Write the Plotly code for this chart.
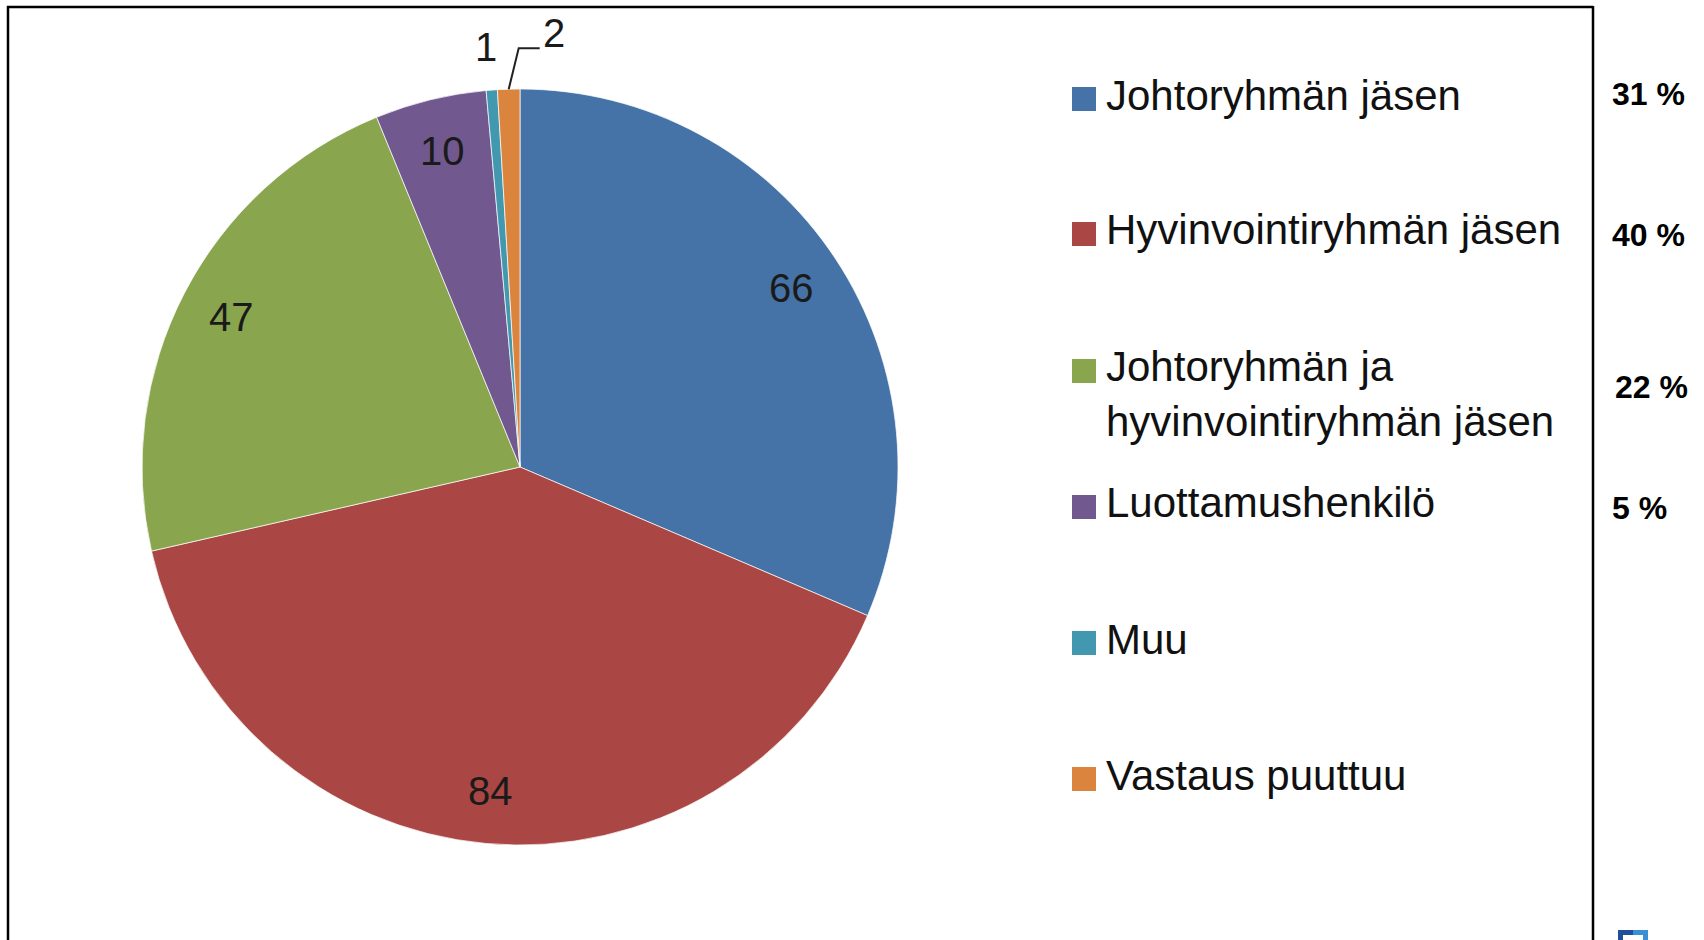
import math
import plotly.graph_objects as go

# ---- data ----
categories = [
    "Johtoryhmän jäsen",
    "Hyvinvointiryhmän jäsen",
    "Johtoryhmän ja<br>hyvinvointiryhmän jäsen",
    "Luottamushenkilö",
    "Muu",
    "Vastaus puuttuu",
]
values = [66, 84, 47, 10, 1, 2]
colors = ["#4572A7", "#AA4643", "#89A54E", "#71588F", "#4198AF", "#DB843D"]
show_percent = [True, True, True, True, False, False]

# ---- layout constants (pixels) ----
W, H = 1704, 940
CX, CY, R = 520, 467, 378
FONT = "Liberation Sans, Arial, sans-serif"


def px(x):
    return x / W


def py(y):
    return 1 - y / H


fig = go.Figure()
fig.add_trace(go.Pie(
    labels=categories,
    values=values,
    marker=dict(colors=colors, line=dict(color="rgba(255,255,255,0.7)", width=1)),
    sort=False,
    direction="clockwise",
    rotation=0,
    textinfo="none",
    hoverinfo="label+value+percent",
    showlegend=False,
    domain=dict(x=[px(CX - R), px(CX + R)], y=[py(CY + R), py(CY - R)]),
))

annotations = []
shapes = []

# value labels computed from slice angles
total = sum(values)
cum = 0
for i, v in enumerate(values):
    a0 = cum / total * 360
    cum += v
    a1 = cum / total * 360
    mid = math.radians((a0 + a1) / 2)
    if i < 4:
        r = 0.86 * R
        x = CX + r * math.sin(mid)
        y = CY - r * math.cos(mid)
        annotations.append(dict(x=px(x), y=py(y), xref="paper", yref="paper",
                                text=str(v), showarrow=False,
                                font=dict(family=FONT, size=40, color="#1a1a1a"),
                                xanchor="center", yanchor="middle"))
    elif i == 4:
        r = 1.115 * R
        x = CX + r * math.sin(mid)
        y = CY - r * math.cos(mid)
        annotations.append(dict(x=px(x - 3), y=py(y), xref="paper", yref="paper",
                                text=str(v), showarrow=False,
                                font=dict(family=FONT, size=40, color="#1a1a1a"),
                                xanchor="center", yanchor="middle"))
    else:
        x0 = CX + R * math.sin(mid)
        y0 = CY - R * math.cos(mid)
        xb, yb = x0 + 10, y0 - 41
        xe = xb + 21
        shapes.append(dict(type="path", xref="paper", yref="paper",
                           path=f"M {px(x0)},{py(y0)} L {px(xb)},{py(yb)} L {px(xe)},{py(yb)}",
                           line=dict(color="#222222", width=2)))
        annotations.append(dict(x=px(xe + 1), y=py(yb - 15), xref="paper", yref="paper",
                                text=str(v), showarrow=False,
                                font=dict(family=FONT, size=40, color="#1a1a1a"),
                                xanchor="left", yanchor="middle"))

# legend drawn manually to match spacing
legend_y = [99, 234, 371, 507, 643, 779]
for i, (lab, c) in enumerate(zip(categories, colors)):
    yc = legend_y[i]
    shapes.append(dict(type="rect", xref="paper", yref="paper",
                       x0=px(1072), x1=px(1096), y0=py(yc + 12), y1=py(yc - 12),
                       fillcolor=c, line=dict(width=0)))
    nlines = lab.count("<br>") + 1
    ty = yc - 4 + (nlines - 1) * 27
    annotations.append(dict(x=px(1104), y=py(ty), xref="paper", yref="paper",
                            text=lab, showarrow=False, align="left",
                            font=dict(family=FONT, size=42, color="#111111"),
                            xanchor="left", yanchor="middle"))

# percentages column
pct_y = [94, 235, 387, 508]
pct_x = [1610, 1610, 1613, 1610]
k = 0
for i, v in enumerate(values):
    if show_percent[i]:
        annotations.append(dict(x=px(pct_x[k]), y=py(pct_y[k]), xref="paper", yref="paper",
                                text=f"<b>{round(v / total * 100)} %</b>", showarrow=False,
                                font=dict(family=FONT, size=32, color="#000000"),
                                xanchor="left", yanchor="middle"))
        k += 1

# frame border
for (x0, y0, x1, y1) in [(8, 6, 8, 940), (7, 7, 1593, 7), (1593, 6, 1593, 940)]:
    shapes.append(dict(type="line", xref="paper", yref="paper",
                       x0=px(x0), y0=py(y0), x1=px(x1), y1=py(y1),
                       line=dict(color="#000000", width=2.5)))

# partial logo at bottom right
shapes.append(dict(type="rect", xref="paper", yref="paper",
                   x0=px(1618), x1=px(1633), y0=py(940), y1=py(930),
                   fillcolor="#1f4e9c", line=dict(width=0)))
shapes.append(dict(type="rect", xref="paper", yref="paper",
                   x0=px(1633), x1=px(1648), y0=py(940), y1=py(930),
                   fillcolor="#3a8fd6", line=dict(width=0)))
shapes.append(dict(type="rect", xref="paper", yref="paper",
                   x0=px(1623), x1=px(1643), y0=py(940), y1=py(935),
                   fillcolor="#ffffff", line=dict(width=0)))

fig.update_layout(
    width=W, height=H,
    margin=dict(l=0, r=0, t=0, b=0),
    paper_bgcolor="white",
    plot_bgcolor="white",
    annotations=annotations,
    shapes=shapes,
)

fig.write_html(
    "out.html",
    config={"displayModeBar": False},
    post_script="document.body.style.margin='0';document.body.style.overflow='hidden';",
)
